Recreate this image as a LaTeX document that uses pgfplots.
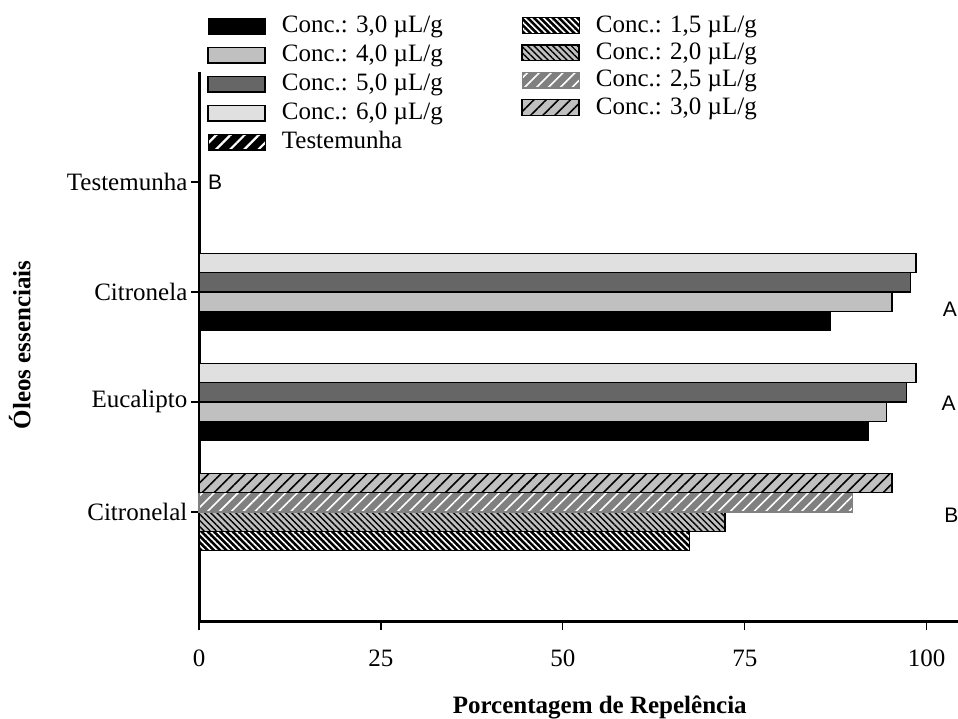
\documentclass[border=0pt]{standalone}
\usepackage{pgfplots}
\pgfplotsset{compat=1.18}
\usetikzlibrary{patterns.meta}
\usepackage{fontspec}
\setmainfont{Liberation Serif}
\newfontfamily\arial{Liberation Sans}
\definecolor{cA}{HTML}{C0C0C0}
\definecolor{cB}{HTML}{666666}
\definecolor{cC}{HTML}{E0E0E0}
\definecolor{cD}{HTML}{808080}
\tikzset{
 sA/.style={fill=black, draw=black, line width=0.6pt},
 sB/.style={fill=cA, draw=black, line width=0.75pt},
 sC/.style={fill=cB, draw=black, line width=0.75pt},
 sD/.style={fill=cC, draw=black, line width=0.75pt},
 sT/.style={preaction={fill=black}, pattern={Lines[angle=45,distance=5pt,line width=1.1pt]}, pattern color=white, draw=black, line width=0.6pt},
 s15/.style={preaction={fill=black}, pattern={Lines[angle=-45,distance=2.2pt,line width=0.8pt]}, pattern color=white, draw=black, line width=0.6pt},
 s20/.style={preaction={fill=cA}, pattern={Lines[angle=-45,distance=2.2pt,line width=0.7pt]}, pattern color=black, draw=black, line width=0.75pt},
 s25/.style={preaction={fill=cD}, pattern={Lines[angle=45,distance=4.2pt,line width=0.8pt]}, pattern color=white, draw=cD, line width=0.6pt},
 s30/.style={preaction={fill=cA}, pattern={Lines[angle=45,distance=4.3pt,line width=0.8pt]}, pattern color=black, draw=black, line width=0.75pt},
}
\pgfplotsset{
 mylegend/.style={
  legend columns=1,
  legend cell align=left,
  legend image code/.code={\draw[##1] (0pt,-3.9pt) rectangle (28.5pt,3.9pt);},
  legend style={anchor=north west, draw=none, fill=none,
   inner sep=0pt, font=\fontsize{12.5}{15}\selectfont,
   nodes={text height=9.5pt, text depth=3pt, inner ysep=0.9pt, inner xsep=0pt},
   /tikz/every odd column/.style={column sep=8pt}},
 }
}
\begin{document}
\begin{tikzpicture}
\begin{axis}[
 scale only axis, width=379.5pt, height=275pt,
 xbar, bar width=0.176,
 xmin=0, xmax=104.3, ymin=-1, ymax=4,
 axis x line*=bottom, axis y line*=left,
 axis line style={line width=1.5pt, -},
 xtick={0,25,50,75,100},
 ytick={0,1,2,3},
 yticklabels={Citronelal,Eucalipto,Citronela,Testemunha},
 tick align=outside, major tick length=4pt,
 tick style={black, line width=0.6pt},
 tick label style={font=\fontsize{12.5}{15}\selectfont},
 xticklabel style={yshift=-6.5pt},
 yticklabel style={xshift=1.7pt},
 /pgf/number format/assume math mode=true,
 xlabel={Porcentagem de Repelência}, ylabel={Óleos essenciais},
 label style={font=\fontsize{12.5}{15}\selectfont\bfseries},
 xlabel style={at={(axis description cs:0.528,-0.156)}, anchor=center},
 ylabel style={at={(axis description cs:-0.236,0.504)}, anchor=center},
 clip=false,
 mylegend,
 legend style={at={(0.0105,1.110)}, row sep=0.2pt},
]
\addplot[sA, bar shift=-0.264, forget plot] coordinates {(86.7,2) (92.0,1)};
\addplot[sB, bar shift=-0.088, forget plot] coordinates {(95.2,2) (94.5,1)};
\addplot[sC, bar shift=0.088, forget plot] coordinates {(97.8,2) (97.2,1)};
\addplot[sD, bar shift=0.264, forget plot] coordinates {(98.5,2) (98.5,1)};
\addplot[s15, bar shift=-0.264, forget plot] coordinates {(67.4,0)};
\addplot[s20, bar shift=-0.088, forget plot] coordinates {(72.3,0)};
\addplot[s25, bar shift=0.088, forget plot] coordinates {(89.8,0)};
\addplot[s30, bar shift=0.264, forget plot] coordinates {(95.2,0)};
\addlegendimage{sA}\addlegendentry{Conc.: 3,0 µL/g}
\addlegendimage{sB}\addlegendentry{Conc.: 4,0 µL/g}
\addlegendimage{sC}\addlegendentry{Conc.: 5,0 µL/g}
\addlegendimage{sD}\addlegendentry{Conc.: 6,0 µL/g}
\addlegendimage{sT}\addlegendentry{Testemunha}
\node[font=\arial\fontsize{10.5}{12}\selectfont] at (axis cs:2.2,3) {B};
\node[font=\arial\fontsize{10.5}{12}\selectfont] at (axis cs:103.2,1.845) {A};
\node[font=\arial\fontsize{10.5}{12}\selectfont] at (axis cs:103.0,0.991) {A};
\node[font=\arial\fontsize{10.5}{12}\selectfont] at (axis cs:103.4,-0.027) {B};
\coordinate (bbA) at (rel axis cs:-0.2622,-0.1764);
\coordinate (bbB) at (rel axis cs:1,1.1309);
\end{axis}
\begin{axis}[
 scale only axis, width=379.5pt, height=275pt,
 hide axis, xmin=0, xmax=1, ymin=0, ymax=1,
 mylegend,
 legend style={at={(0.4242,1.111)}, row sep=-0.65pt},
]
\addlegendimage{s15}\addlegendentry{Conc.: 1,5 µL/g}
\addlegendimage{s20}\addlegendentry{Conc.: 2,0 µL/g}
\addlegendimage{s25}\addlegendentry{Conc.: 2,5 µL/g}
\addlegendimage{s30}\addlegendentry{Conc.: 3,0 µL/g}
\end{axis}
\pgfresetboundingbox
\useasboundingbox (bbA) rectangle (bbB);
\end{tikzpicture}
\end{document}
